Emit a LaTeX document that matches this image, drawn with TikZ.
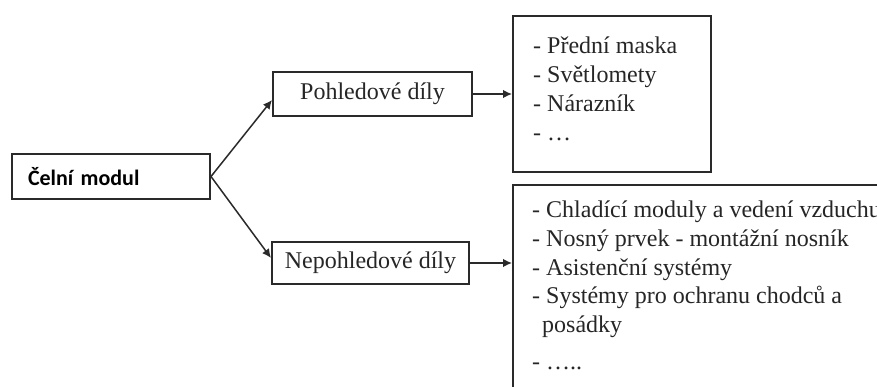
\documentclass[tikz,border=0pt]{standalone}
\usepackage{fontspec}
\setmainfont{Liberation Serif}
\newfontfamily\calfont{Carlito}
\usetikzlibrary{arrows.meta}
\definecolor{linecol}{HTML}{2A2A2A}
\definecolor{txtcol}{HTML}{262626}
\newcommand{\serifsz}{\fontsize{24}{29}\selectfont}
\begin{document}
\begin{tikzpicture}[x=1pt,y=-1pt,
  box/.style={draw=linecol, line width=2pt, inner sep=0pt, text=txtcol},
  arr/.style={draw=linecol, line width=1.5pt, -{Latex[length=9pt,width=8.5pt]}},
  item/.style={anchor=base west, inner sep=0pt, font=\serifsz, text=txtcol}]
\useasboundingbox (0,0) rectangle (877,387);
\clip (0,0) rectangle (877,387);
\fill[white] (0,0) rectangle (877,387);

\node[box, minimum width=198pt, minimum height=45pt, text width=166pt, align=left,
      font=\calfont\bfseries\fontsize{22}{26}\selectfont, text=black] (celni) at (111,176.5) {Čelní modul};
\node[box, minimum width=199pt, minimum height=44pt, font=\serifsz] (poh) at (372.5,94) {Pohledové díly};
\node[box, minimum width=197pt, minimum height=42pt, font=\serifsz] (nep) at (370.5,263) {Nepohledové díly};

\node[box, minimum width=198pt, minimum height=156pt] (list1) at (612,94) {};
\node[box, minimum width=487pt, minimum height=265pt] (list2) at (756.5,317.5) {};

\node[item] (a1) at (533,54) {- Přední maska};
\node[item] (a2) at (533,83) {- Světlomety};
\node[item] (a3) at (533,112) {- Nárazník};
\node[item] (a4) at (533,141) {- …};

\node[item] (b1) at (532,218) {- Chladící moduly a vedení vzduchu};
\node[item] (b2) at (532,246.5) {- Nosný prvek - montážní nosník};
\node[item] (b3) at (532,275) {- Asistenční systémy};
\node[item] (b4) at (532,303.5) {- Systémy pro ochranu chodců a};
\node[item] (b5) at (542,332) {posádky};
\node[item] (b6) at (532,369) {- …..};

\draw[arr] (celni.east) -- ([yshift=-6pt]poh.west);
\draw[arr] (celni.east) -- ([yshift=5pt]nep.west);
\draw[arr] (poh.east) -- (poh.east -| list1.west);
\draw[arr] (nep.east) -- (nep.east -| list2.west);
\end{tikzpicture}
\end{document}
